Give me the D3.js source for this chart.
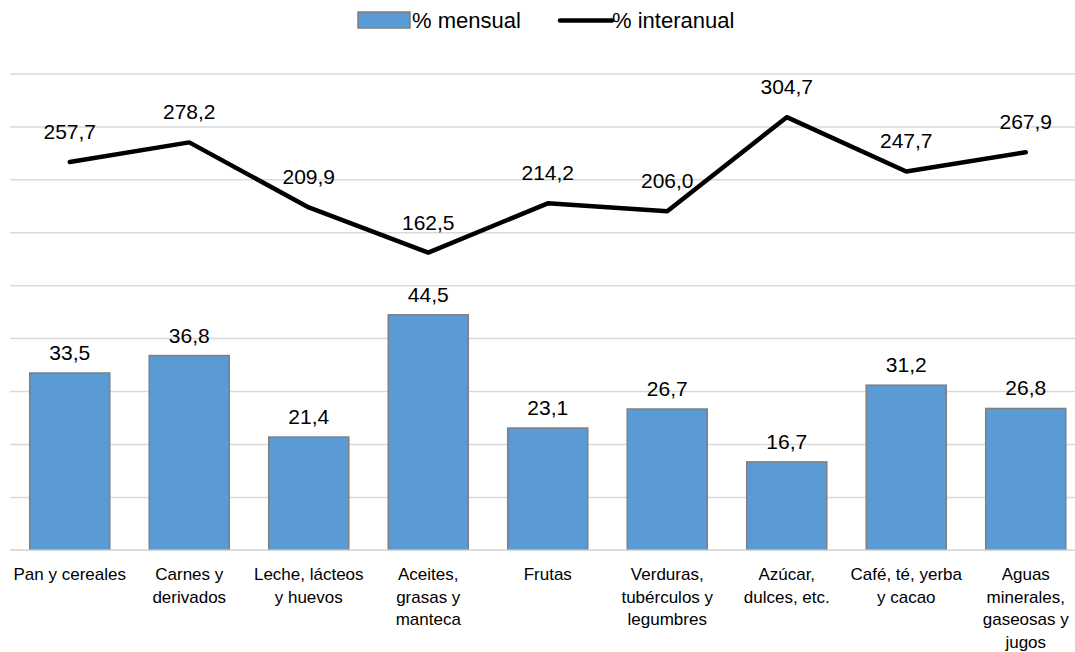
<!DOCTYPE html>
<html>
<head>
<meta charset="utf-8">
<script src="https://cdn.jsdelivr.net/npm/d3@7"></script>
<style>
  html, body { margin: 0; padding: 0; background: #fff; }
  svg { display: block; }
</style>
</head>
<body>
<svg id="chart" width="1075" height="652"></svg>
<script>
const categories = [
  ["Pan y cereales"],
  ["Carnes y", "derivados"],
  ["Leche, lácteos", "y huevos"],
  ["Aceites,", "grasas y", "manteca"],
  ["Frutas"],
  ["Verduras,", "tubérculos y", "legumbres"],
  ["Azúcar,", "dulces, etc."],
  ["Café, té, yerba", "y cacao"],
  ["Aguas", "minerales,", "gaseosas y", "jugos"]
];
const mensual = [33.5, 36.8, 21.4, 44.5, 23.1, 26.7, 16.7, 31.2, 26.8];
const interanual = [257.7, 278.2, 209.9, 162.5, 214.2, 206.0, 304.7, 247.7, 267.9];
const barTicks = [0, 10, 20, 30, 40, 50, 60, 70, 80, 90];
const seriesNames = ["% mensual", "% interanual"];

const svg = d3.select("#chart");
const numFont = "'Liberation Sans', Arial, sans-serif";
const fmt = v => d3.format(".1f")(v).replace(".", ",");

const x = d3.scaleBand()
  .domain(d3.range(categories.length))
  .range([10, 1085.5])
  .paddingInner(0.33)
  .paddingOuter(0.165);
const yBar = d3.scaleLinear().domain([0, 90]).range([550.3, 74]);
const yLine = d3.scaleLinear().domain([-150, 350]).range([550.3, 74]);

// gridlines
svg.append("g")
  .selectAll("line")
  .data(barTicks)
  .join("line")
  .attr("x1", 10).attr("x2", 1075)
  .attr("y1", d => yBar(d)).attr("y2", d => yBar(d))
  .attr("stroke", "#d9d9d9")
  .attr("stroke-width", 1.5);

// bars
svg.append("g")
  .selectAll("rect")
  .data(mensual)
  .join("rect")
  .attr("x", (d, i) => x(i))
  .attr("width", x.bandwidth())
  .attr("y", d => yBar(d))
  .attr("height", d => yBar(0) - yBar(d))
  .attr("fill", "#5b9bd5")
  .attr("stroke", "#7f7f7f")
  .attr("stroke-width", 1.5);

// baseline over bars
svg.append("line")
  .attr("x1", 10).attr("x2", 1075)
  .attr("y1", yBar(0)).attr("y2", yBar(0))
  .attr("stroke", "#d9d9d9").attr("stroke-width", 1.5);

// bar labels
svg.append("g")
  .selectAll("text")
  .data(mensual)
  .join("text")
  .attr("x", (d, i) => x(i) + x.bandwidth() / 2)
  .attr("y", d => yBar(d) - 13)
  .attr("text-anchor", "middle")
  .attr("font-family", numFont)
  .attr("font-size", 21)
  .attr("fill", "#000")
  .text(d => fmt(d));

// line
const line = d3.line()
  .x((d, i) => x(i) + x.bandwidth() / 2)
  .y(d => yLine(d));
svg.append("path")
  .datum(interanual)
  .attr("d", line)
  .attr("fill", "none")
  .attr("stroke", "#000")
  .attr("stroke-width", 4.5)
  .attr("stroke-linejoin", "round")
  .attr("stroke-linecap", "round");

// line labels
svg.append("g")
  .selectAll("text")
  .data(interanual)
  .join("text")
  .attr("x", (d, i) => x(i) + x.bandwidth() / 2)
  .attr("y", d => yLine(d) - 23)
  .attr("text-anchor", "middle")
  .attr("font-family", numFont)
  .attr("font-size", 21)
  .attr("fill", "#000")
  .text(d => fmt(d));

// category labels
const catG = svg.append("g");
categories.forEach((lines, i) => {
  const t = catG.append("text")
    .attr("text-anchor", "middle")
    .attr("font-family", numFont)
    .attr("font-size", 17)
    .attr("fill", "#000");
  lines.forEach((ln, j) => {
    t.append("tspan")
      .attr("x", x(i) + x.bandwidth() / 2)
      .attr("y", 580 + j * 22.6)
      .text(ln);
  });
});

// legend
const leg = svg.append("g");
leg.append("rect")
  .attr("x", 358).attr("y", 12).attr("width", 52).attr("height", 16)
  .attr("fill", "#5b9bd5").attr("stroke", "#7f7f7f").attr("stroke-width", 1.5);
leg.append("text")
  .attr("x", 412).attr("y", 28)
  .attr("font-family", numFont).attr("font-size", 22)
  .text(seriesNames[0]);
leg.append("line")
  .attr("x1", 560).attr("x2", 612).attr("y1", 20.5).attr("y2", 20.5)
  .attr("stroke", "#000").attr("stroke-width", 4.5).attr("stroke-linecap", "round");
leg.append("text")
  .attr("x", 612).attr("y", 28)
  .attr("font-family", numFont).attr("font-size", 22)
  .text(seriesNames[1]);
</script>
</body>
</html>
